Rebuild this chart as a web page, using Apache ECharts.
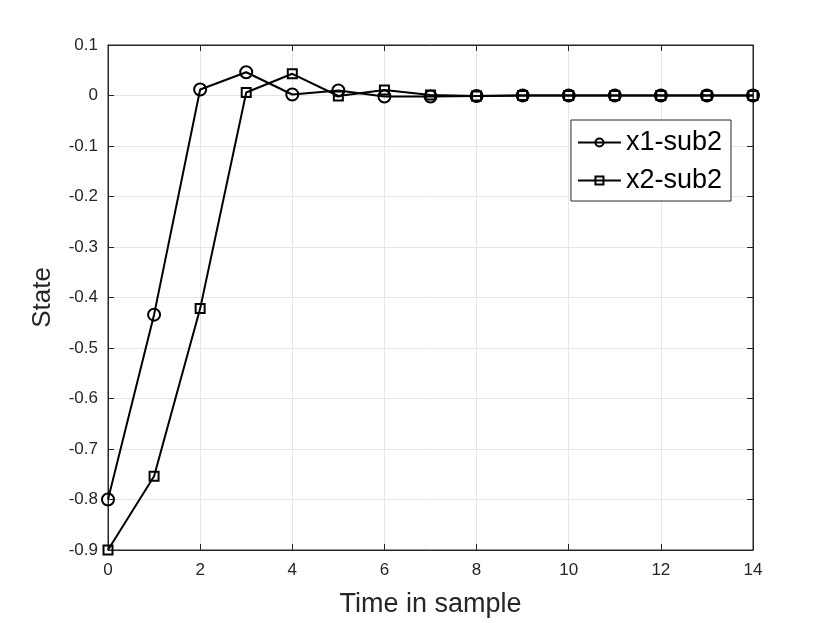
<!DOCTYPE html>
<html>
<head>
<meta charset="utf-8">
<script src="https://cdn.jsdelivr.net/npm/echarts@6/dist/echarts.min.js"></script>
<style>
  html, body { margin: 0; padding: 0; background: #fff; }
  #chart { width: 830px; height: 623px; }
</style>
</head>
<body>
<div id="chart"></div>
<script>
const samples = [0, 1, 2, 3, 4, 5, 6, 7, 8, 9, 10, 11, 12, 13, 14];
const x1Sub2 = [-0.8, -0.434, 0.012, 0.046, 0.002, 0.01, -0.002, -0.002, -0.001, 0, 0, 0, 0, 0, 0];
const x2Sub2 = [-0.9, -0.754, -0.422, 0.006, 0.043, -0.001, 0.011, 0.001, -0.001, 0, 0, 0, 0, 0, 0];

const font = 'Liberation Sans, Arial, sans-serif';
const chart = echarts.init(document.getElementById('chart'));

function pairs(vals) {
  return samples.map((s, i) => [s, vals[i]]);
}

const tickStyle = { show: true, inside: true, length: 6, lineStyle: { color: '#262626', width: 1 } };
const lineStyle = { color: '#262626', width: 1 };

chart.setOption({
  animation: false,
  backgroundColor: '#fff',
  grid: { left: 108, right: 77, top: 45, bottom: 73, show: true, borderColor: '#262626', borderWidth: 1 },
  legend: {
    right: 99,
    top: 120,
    orient: 'vertical',
    backgroundColor: '#fff',
    borderColor: '#262626',
    borderWidth: 1,
    borderRadius: 0,
    padding: [9, 9, 7, 6],
    itemGap: 11,
    itemWidth: 43,
    itemHeight: 10,
    textStyle: { fontFamily: font, fontSize: 27, color: '#000' },
    data: ['x1-sub2', 'x2-sub2']
  },
  xAxis: [{
    type: 'value',
    min: 0, max: 14, interval: 2,
    name: 'Time in sample',
    nameLocation: 'middle',
    nameGap: 41,
    nameTextStyle: { fontFamily: font, fontSize: 27, color: '#262626' },
    axisLine: { onZero: false, lineStyle: lineStyle },
    axisTick: tickStyle,
    axisLabel: { fontFamily: font, fontSize: 17, color: '#262626', margin: 12 },
    splitLine: { show: true, lineStyle: { color: '#e6e6e6', width: 1 } }
  }, {
    type: 'value', position: 'top',
    min: 0, max: 14, interval: 2,
    axisLine: { show: true, onZero: false, lineStyle: lineStyle },
    axisTick: tickStyle,
    axisLabel: { show: false },
    splitLine: { show: false }
  }],
  yAxis: [{
    type: 'value',
    min: -0.9, max: 0.1, interval: 0.1,
    name: 'State',
    nameLocation: 'middle',
    nameGap: 52,
    nameTextStyle: { fontFamily: font, fontSize: 26, color: '#262626' },
    axisLine: { show: true, onZero: false, lineStyle: lineStyle },
    axisTick: tickStyle,
    axisLabel: {
      fontFamily: font, fontSize: 17, color: '#262626', margin: 10,
      formatter: v => { const r = Math.round(v * 10) / 10; return r === 0 ? '0' : String(r); }
    },
    splitLine: { show: true, lineStyle: { color: '#e6e6e6', width: 1 } }
  }, {
    type: 'value', position: 'right',
    min: -0.9, max: 0.1, interval: 0.1,
    axisLine: { show: true, onZero: false, lineStyle: lineStyle },
    axisTick: tickStyle,
    axisLabel: { show: false },
    splitLine: { show: false }
  }],
  series: [{
    name: 'x1-sub2',
    type: 'line',
    data: pairs(x1Sub2),
    symbol: 'circle',
    symbolSize: 12,
    lineStyle: { color: '#000', width: 2 },
    itemStyle: { color: 'transparent', borderColor: '#000', borderWidth: 2 },
    z: 3
  }, {
    name: 'x2-sub2',
    type: 'line',
    data: pairs(x2Sub2),
    symbol: 'rect',
    symbolSize: 9,
    lineStyle: { color: '#000', width: 2 },
    itemStyle: { color: 'transparent', borderColor: '#000', borderWidth: 2 },
    z: 4
  }]
});
</script>
</body>
</html>
